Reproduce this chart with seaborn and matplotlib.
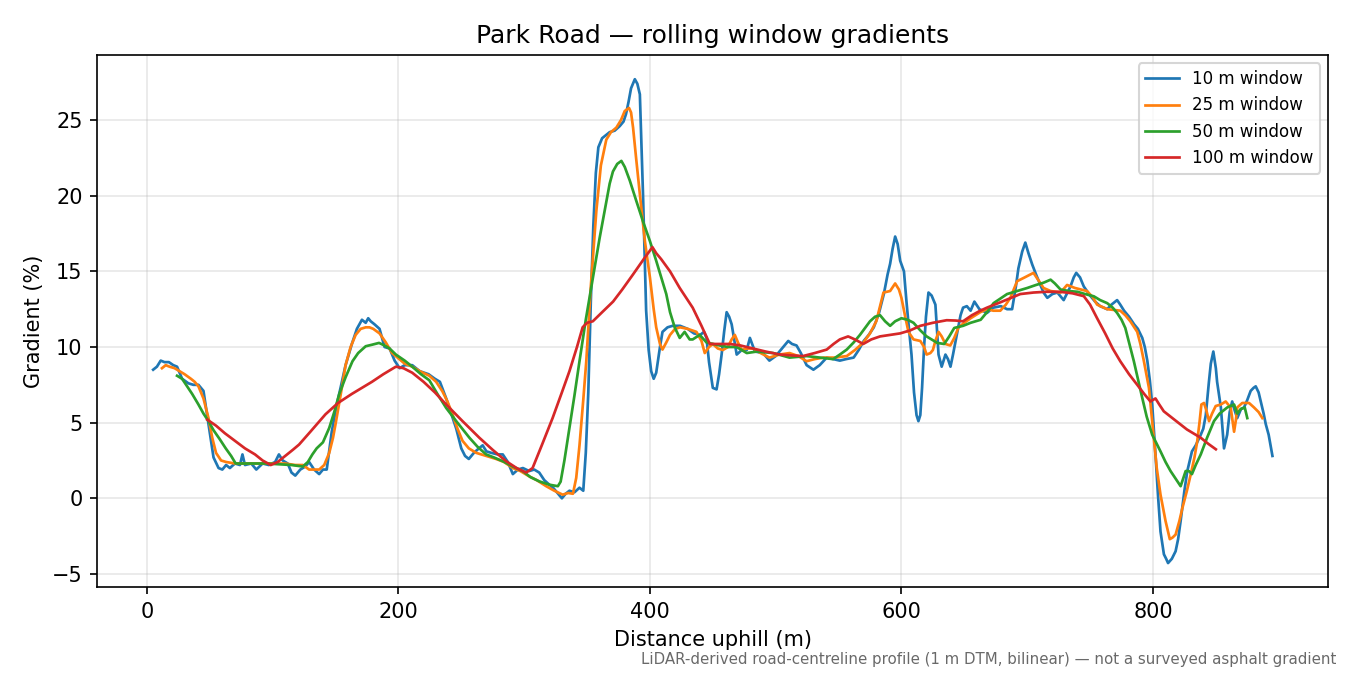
import matplotlib
matplotlib.use("Agg")
import matplotlib.pyplot as plt
import seaborn as sns
import pandas as pd

# values, distance (m) / gradient (%)
dist_10 = [5, 8, 11, 14, 17.5, 21, 24, 28, 33, 37, 41, 45, 49, 53, 57, 60, 63, 66, 70, 74, 76, 78, 83, 87,
           92, 97, 102, 105, 108, 112, 115, 118, 122, 126, 129, 133, 137, 140, 143, 147, 151, 154, 158, 163,
           167, 171, 174, 176, 178, 181, 185, 189, 193, 197, 201, 205, 211, 217, 224, 229, 233, 238, 242, 246,
           250, 253, 256, 260, 264, 267, 270, 274, 279, 283, 287, 291, 295, 299, 304, 308, 312, 316, 320, 323,
           327, 330, 333, 336, 340, 344, 347, 349, 351, 353, 355, 357, 359, 362, 365, 368, 372, 376, 379, 381,
           383, 385, 388, 390, 392, 393, 394.5, 396, 397, 399, 401, 403, 405, 408, 410, 414, 418, 424, 430, 435,
           440, 443, 445, 447, 450, 453, 455, 457, 459, 461, 463, 465, 467, 469, 473, 477, 479.5, 483.5, 490, 495,
           500, 503, 507, 510, 513, 516.6, 520, 524.6, 530, 535, 540.6, 546, 551, 556, 562, 566, 570, 574, 578,
           582, 586, 589, 591, 593, 595, 597, 599, 602, 604, 606, 608, 610, 612, 613.5, 615, 616.4, 618, 619.5,
           621.5, 624, 627, 629.5, 632, 635, 637, 639, 641, 644, 647, 649, 652, 655, 658, 662, 668, 673, 679, 684,
           688, 691, 693, 696, 698.5, 701, 704, 707, 710.5, 713, 716, 720, 724, 729, 732, 734.4, 737, 739, 742,
           745, 750, 754, 758, 763.6, 767, 771.5, 774, 777, 781, 785, 788, 791.5, 793.5, 795.5, 797.5, 799.4,
           802, 804, 806, 808.7, 810.5, 812, 815, 818, 820, 822, 825, 827.3, 831, 834, 838, 840, 842, 844.5, 846,
           848, 850, 851, 854, 856.5, 859, 861, 863, 865, 867, 870, 872.4, 875, 877.7, 880, 881.7, 884, 885.7,
           888, 889.7, 892, 895]
grad_10 = [8.5, 8.7, 9.1, 9.0, 9.0, 8.8, 8.7, 7.9, 7.6, 7.5, 7.5, 7.1, 4.9, 2.7, 2.0, 1.9, 2.2, 2.0, 2.3, 2.2,
           2.9, 2.2, 2.3, 1.9, 2.3, 2.2, 2.4, 2.9, 2.5, 2.3, 1.7, 1.5, 1.9, 2.1, 2.4, 1.9, 1.6, 1.9, 1.9, 4.4,
           6.2, 7.3, 8.8, 10.2, 11.2, 11.8, 11.6, 11.9, 11.7, 11.5, 11.2, 10.0, 9.9, 9.1, 8.6, 8.8, 8.8, 8.4,
           8.2, 7.9, 7.7, 6.6, 5.6, 4.6, 3.3, 2.8, 2.6, 3.0, 3.3, 3.5, 3.1, 3.0, 2.9, 2.9, 2.4, 1.6, 1.9, 2.0,
           1.8, 1.9, 1.7, 1.2, 0.9, 0.7, 0.3, 0.0, 0.3, 0.5, 0.4, 0.7, 0.5, 3.0, 7.0, 13.0, 18.0, 21.5, 23.2,
           23.8, 24.0, 24.2, 24.3, 24.6, 24.9, 25.4, 26.2, 27.1, 27.7, 27.4, 26.7, 24.0, 20.1, 15.5, 12.4, 9.8,
           8.4, 7.9, 8.3, 10.0, 11.0, 11.3, 11.4, 11.4, 11.2, 10.9, 10.8, 11.0, 10.6, 9.0, 7.3, 7.2, 8.2, 9.5,
           11.0, 12.3, 12.0, 11.5, 10.5, 9.5, 9.8, 9.8, 10.6, 9.7, 9.6, 9.1, 9.4, 9.7, 10.1, 10.4, 10.2, 10.1,
           9.6, 8.8, 8.5, 8.8, 9.3, 9.2, 9.1, 9.2, 9.3, 9.8, 10.4, 10.8, 11.3, 12.2, 13.5, 14.8, 15.5, 16.5,
           17.3, 16.8, 15.7, 15.0, 13.0, 11.2, 9.5, 7.0, 5.5, 5.1, 5.5, 7.3, 10.0, 12.0, 13.6, 13.4, 12.8, 9.5,
           8.7, 9.5, 9.2, 8.7, 9.5, 10.8, 12.1, 12.6, 12.7, 12.4, 13.0, 12.5, 12.25, 12.6, 12.7, 12.5, 12.5,
           14.0, 15.2, 16.3, 16.9, 16.2, 15.45, 14.8, 14.1, 13.6, 13.25, 13.5, 13.6, 13.1, 13.6, 14.0, 14.6,
           14.9, 14.6, 14.0, 13.4, 13.0, 12.7, 12.5, 12.8, 13.1, 12.8, 12.4, 12.0, 11.5, 11.2, 10.6, 10.0, 9.1,
           7.8, 6.2, 2.9, 0.2, -2.2, -3.7, -4.0, -4.28, -4.0, -3.5, -2.7, -1.5, 0.5, 1.8, 3.1, 3.5, 4.2, 4.6,
           5.5, 7.7, 8.9, 9.7, 8.6, 7.7, 6.0, 3.3, 4.2, 5.7, 6.4, 5.8, 5.3, 5.9, 6.0, 6.5, 7.1, 7.3, 7.4, 7.0,
           6.4, 5.6, 4.9, 4.2, 2.8]

dist_25 = [12, 15, 18, 22, 26, 30, 35, 38, 41, 45, 49, 52, 55, 59, 63, 70, 80, 90, 100, 110, 118, 124, 129,
           133, 137, 141, 145, 148, 150, 154, 158, 162, 166, 170, 174, 177, 180, 185, 190, 195, 200.7, 205, 211,
           217, 224.6, 230, 235, 239, 243, 247, 251, 256, 262, 270, 277.7, 284, 291, 297, 304, 310, 317.5, 324,
           330.6, 335, 338.8, 341.4, 344, 347, 349.4, 353, 357.4, 361, 365.3, 369, 373.3, 377, 380, 383.4, 385,
           386.6, 389, 392, 396, 400, 403, 405, 408, 410, 413, 416, 420, 424, 430, 437, 441, 443.6, 447, 450,
           454, 458, 462, 465, 467.5, 470, 473, 477, 482, 488, 495, 503, 511, 518, 524.6, 531, 538, 547, 556.5,
           563, 569.8, 575, 580, 583, 585.7, 591, 595, 598, 600, 603, 605.6, 609.6, 615, 618, 620, 623, 625,
           627, 629.5, 632, 635, 638.8, 642, 645.4, 650, 655, 662.7, 668, 673, 678.6, 683, 686.6, 692, 698, 705,
           709, 713, 718.6, 726.5, 731.7, 738, 747.5, 752, 755.6, 763.6, 774, 778, 782, 787.5, 790, 792.8, 796.8,
           800.7, 803, 806, 810, 813.4, 815.5, 818, 821, 823.4, 827, 830, 833, 835.2, 837, 838.5, 840.6, 842.5,
           844.6, 847, 849.9, 854, 857.8, 861.8, 863, 864.5, 866, 867, 871, 876.4, 880.4, 884, 887]
grad_25 = [8.6, 8.8, 8.7, 8.6, 8.4, 8.2, 7.9, 7.7, 7.4, 6.6, 5.3, 4.0, 3.0, 2.5, 2.4, 2.3, 2.3, 2.3, 2.3, 2.3,
           2.2, 2.2, 1.9, 1.9, 1.9, 2.2, 3.0, 4.0, 4.9, 6.8, 8.8, 10.0, 10.8, 11.2, 11.3, 11.3, 11.2, 10.9, 10.3,
           9.6, 9.2, 8.9, 8.7, 8.4, 8.1, 7.7, 7.07, 6.4, 5.55, 4.6, 3.8, 3.3, 3.0, 2.8, 2.6, 2.4, 2.0, 1.8, 1.45,
           1.2, 0.8, 0.5, 0.24, 0.35, 0.3, 1.35, 3.5, 6.5, 9.06, 14.0, 19.0, 22.0, 23.7, 24.2, 24.5, 25.0, 25.6,
           25.8, 25.5, 24.5, 22.5, 20.1, 17.0, 14.6, 12.5, 11.3, 10.2, 9.83, 10.3, 10.8, 11.2, 11.3, 11.2, 11.0,
           10.4, 9.6, 10.0, 10.2, 9.9, 9.8, 10.0, 10.5, 10.8, 10.3, 9.8, 9.9, 9.9, 9.6, 9.3, 9.5, 9.6, 9.4, 9.06,
           9.2, 9.3, 9.3, 9.4, 9.8, 10.3, 10.9, 11.7, 12.7, 13.6, 13.7, 14.2, 13.8, 13.25, 12.0, 11.0, 10.5,
           10.4, 10.0, 9.5, 9.6, 9.8, 10.4, 11.0, 10.7, 10.2, 10.1, 10.6, 11.3, 11.6, 11.9, 12.3, 12.5, 12.4,
           12.4, 12.8, 13.25, 14.35, 14.6, 14.9, 14.4, 13.9, 13.7, 13.6, 14.1, 13.9, 13.7, 13.3, 12.8, 12.5,
           12.4, 12.1, 11.7, 11.0, 10.2, 9.06, 7.3, 4.0, 2.0, 0.24, -1.5, -2.7, -2.6, -2.4, -1.5, -0.64, 0.5,
           1.57, 2.7, 3.77, 5.0, 6.2, 6.3, 5.8, 5.1, 5.6, 6.1, 6.2, 6.4, 6.0, 5.3, 4.4, 5.2, 6.0, 6.3, 6.3, 6.0,
           5.7, 5.3]

dist_50 = [24, 28, 32, 36, 41, 45, 49, 53, 58, 62.7, 67, 70.6, 76, 85, 95, 105, 115, 124, 128, 131.6, 135, 140,
           145, 149, 153, 158, 163.5, 168, 174, 179, 184.6, 189, 193, 198, 205, 211, 218, 224.6, 231, 238, 246,
           256.5, 263, 269.8, 276, 283, 291, 299, 305, 312, 320, 326.8, 329, 332, 336, 340, 344, 349, 354.7, 360,
           365.3, 368, 370.6, 374, 377.3, 380, 384, 389, 394.5, 400, 405, 409, 413, 416, 419.7, 423.7, 427.6,
           431.6, 434, 439.6, 445, 455.6, 462, 469, 477, 485, 498, 511, 524.6, 535, 545.7, 551, 556.5, 562, 567,
           575, 579, 583, 587, 591, 595, 600, 605, 609.6, 615, 620, 628.5, 634, 638, 642, 649, 655, 663, 668,
           673.3, 684, 692, 700, 707, 713, 718.6, 722, 726.5, 733, 739.9, 746, 753, 758, 763.6, 768, 771.5, 775,
           778, 781, 784.8, 788, 791.5, 795, 799.4, 803, 806, 810, 814, 818, 822, 824, 826, 828.6, 831, 834, 838,
           843, 848.5, 853, 859, 864.5, 867, 869.8, 873, 875]
grad_50 = [8.1, 7.9, 7.4, 6.9, 6.2, 5.6, 5.1, 4.5, 3.9, 3.3, 2.8, 2.3, 2.3, 2.3, 2.3, 2.25, 2.2, 2.1, 2.4, 2.9,
           3.3, 3.7, 4.65, 5.7, 6.9, 8.0, 9.06, 9.6, 10.05, 10.15, 10.27, 10.1, 9.9, 9.5, 9.1, 8.7, 8.2, 7.8, 6.9,
           5.97, 5.1, 4.0, 3.4, 2.9, 2.7, 2.45, 2.1, 1.79, 1.4, 1.12, 0.9, 0.8, 1.1, 2.5, 4.65, 6.8, 9.06, 11.8,
           14.6, 17.2, 19.6, 20.8, 21.6, 22.1, 22.3, 21.9, 21.0, 19.7, 18.3, 17.0, 15.7, 14.6, 13.5, 12.3, 11.3,
           10.6, 11.0, 10.5, 10.5, 10.8, 10.3, 10.1, 10.0, 10.0, 9.6, 9.7, 9.6, 9.3, 9.4, 9.3, 9.2, 9.5, 9.83,
           10.3, 10.8, 11.7, 12.0, 12.1, 11.7, 11.4, 11.7, 11.9, 11.8, 11.6, 11.1, 10.7, 10.27, 10.2, 10.7,
           11.26, 11.4, 11.6, 11.8, 12.3, 12.9, 13.5, 13.7, 13.9, 14.1, 14.25, 14.45, 14.2, 13.8, 13.7, 13.65,
           13.5, 13.35, 13.1, 12.9, 12.6, 12.25, 11.8, 11.26, 10.3, 9.06, 7.9, 6.63, 5.4, 4.2, 3.6, 3.1, 2.4,
           1.8, 1.3, 0.8, 1.3, 1.8, 1.8, 1.6, 2.2, 2.9, 4.0, 5.1, 5.6, 6.0, 6.2, 5.6, 5.9, 6.0, 5.3]

dist_100 = [48, 55, 62, 70, 78, 86, 92, 98.5, 104, 110, 116, 121, 130, 142, 152, 163, 171, 179, 188, 198, 204,
            211, 220, 229, 238, 251, 264.4, 275, 285.7, 294, 301.6, 306.7, 314, 322.6, 330, 336, 342, 346.5, 350,
            354.6, 362, 370.7, 378, 386.6, 395, 402, 405, 409, 416, 423.7, 434, 441, 447.6, 455, 463.6, 472, 482,
            492, 503.4, 512, 521.7, 531, 540.6, 546, 551, 557.6, 563, 569.6, 576, 583, 591, 599, 607, 615, 625,
            636, 643, 649, 656, 662.7, 668, 680, 694.5, 705, 715, 726, 736, 745, 750, 755.6, 762, 768, 774, 781,
            787.5, 793, 798, 802, 805, 808.6, 817, 827, 838, 844, 850]
grad_100 = [5.2, 4.8, 4.3, 3.8, 3.3, 2.9, 2.5, 2.2, 2.4, 2.8, 3.2, 3.55, 4.4, 5.55, 6.3, 6.9, 7.3, 7.7, 8.2, 8.7,
            8.6, 8.3, 7.7, 7.0, 6.2, 5.1, 4.0, 3.2, 2.45, 2.0, 1.7, 2.0, 3.5, 5.3, 7.0, 8.4, 10.0, 11.3, 11.6,
            11.7, 12.3, 13.0, 13.8, 14.8, 15.8, 16.6, 16.2, 15.8, 15.0, 13.9, 12.6, 11.4, 10.2, 10.2, 10.2, 10.1,
            9.9, 9.7, 9.5, 9.45, 9.4, 9.6, 9.83, 10.2, 10.5, 10.7, 10.5, 10.2, 10.5, 10.7, 10.8, 10.9, 11.1,
            11.4, 11.6, 11.77, 11.75, 11.7, 12.1, 12.4, 12.6, 13.0, 13.5, 13.6, 13.65, 13.65, 13.55, 13.36, 12.8,
            11.9, 10.9, 9.9, 9.06, 8.2, 7.5, 6.9, 6.4, 6.6, 6.2, 5.75, 5.2, 4.55, 4.0, 3.6, 3.24]

windows = ["10 m window", "25 m window", "50 m window", "100 m window"]
colors = ["#1f77b4", "#ff7f0e", "#2ca02c", "#d62728"]

series = [(dist_10, grad_10), (dist_25, grad_25), (dist_50, grad_50), (dist_100, grad_100)]

fig, ax = plt.subplots(figsize=(9, 4.5), dpi=150)
fig.subplots_adjust(left=0.072, right=0.984, bottom=0.130, top=0.9185)

for (d, g), name, c in zip(series, windows, colors):
    df = pd.DataFrame({"dist": d, "grad": g})
    sns.lineplot(data=df, x="dist", y="grad", ax=ax, color=c, label=name,
                 linewidth=1.3, estimator=None, sort=False)

ax.set_title("Park Road — rolling window gradients", fontsize=12)
ax.set_xlabel("Distance uphill (m)", fontsize=10)
ax.set_ylabel("Gradient (%)", fontsize=10)
ax.grid(True, alpha=0.3)
ax.legend(loc="upper right", fontsize=8)
fig.text(0.99, 0.012, "LiDAR-derived road-centreline profile (1 m DTM, bilinear) — not a surveyed asphalt gradient",
         ha="right", va="bottom", fontsize=7.2, color="dimgray")

fig.savefig("out.png", dpi=150)
